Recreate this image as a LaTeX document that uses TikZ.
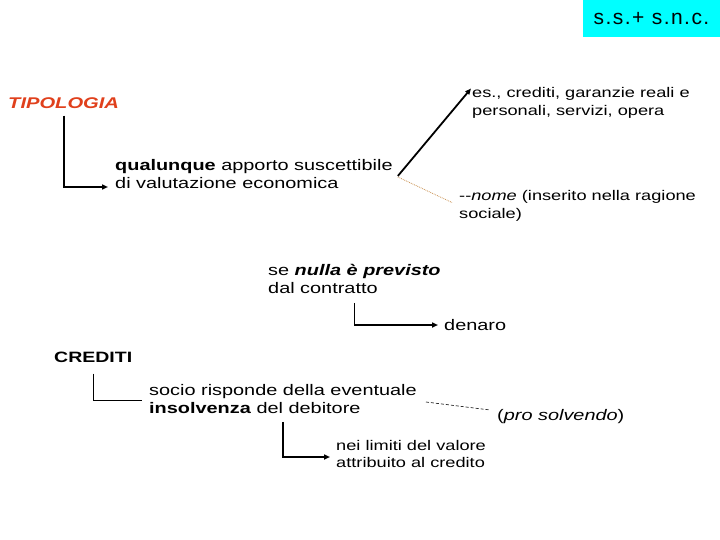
\documentclass[tikz,border=0pt]{standalone}
\usepackage{fontspec}
\setmainfont[FakeStretch=1.3]{Liberation Sans}
\newfontfamily\bannerfont[LetterSpace=7]{Liberation Sans}
\usetikzlibrary{arrows.meta,positioning,calc}
\definecolor{bannercyan}{HTML}{00FFFF}
\definecolor{tipred}{HTML}{E0401C}
\definecolor{dotline}{HTML}{C89050}
\tikzset{
  txt/.style={anchor=west,align=left,inner sep=1pt,font=\fontsize{15.3}{18}\selectfont},
  small/.style={txt,font=\fontsize{14}{17.5}\selectfont},
  flow/.style={-{Triangle[length=6pt,width=5pt]},line width=1.8pt},
  plain/.style={line width=1pt},
}

\begin{document}
\begin{tikzpicture}[x=1pt,y=-1pt]
  \useasboundingbox (0,0) rectangle (720,540);
  \node[fill=bannercyan,minimum width=137pt,minimum height=37pt,inner sep=0pt,
    font=\bannerfont\fontsize{21}{21}\selectfont] (banner) at (651.5,18.5) {s.s.+ s.n.c.};
  \node[txt,font=\fontsize{15.5}{18}\selectfont\bfseries\itshape,text=tipred] (tip) at (7,103) {TIPOLOGIA};
  \node[txt] (qual) at (114,174) {\textbf{qualunque} apporto suscettibile\\di valutazione economica};
  \node[small] (es) at (471,103) {es., crediti, garanzie reali e\\personali, servizi, opera};
  \node[small] (nome) at (458,206) {-{}-\textit{nome} (inserito nella ragione\\sociale)};
  \node[txt] (se) at (267,279) {se \textbf{\textit{nulla è previsto}}\\dal contratto};
  \node[txt] (denaro) at (443,325) {denaro};
  \node[txt,font=\fontsize{15}{18}\selectfont\bfseries] (cred) at (53,357) {CREDITI};
  \node[txt] (socio) at (148,399) {socio risponde della eventuale\\\textbf{insolvenza} del debitore};
  \node[txt] (pro) at (496,417) {(\textit{pro solvendo})};
  \node[small] (nei) at (335,454) {nei limiti del valore\\attribuito al credito};
  % connectors
  \draw[flow] ([yshift=-6pt]tip.south) |- ([xshift=-6pt,yshift=-13pt]qual.west);
  \draw[flow] ([xshift=4pt,yshift=-2pt]qual.east) -- ([yshift=-2pt]es.north west);
  \draw[dotline,densely dotted,line width=0.8pt] ([xshift=4pt,yshift=-3pt]qual.east) -- ([xshift=-6pt,yshift=-13pt]nome.north west);
  \draw[flow] ([yshift=-8pt]se.south) |- ([xshift=-5pt]denaro.west);
  \draw[plain] ([yshift=-10pt]cred.south) |- ([xshift=-6pt,yshift=-1pt]socio.west);
  \draw[densely dashed,line width=0.6pt] ([xshift=8pt,yshift=-3pt]socio.east) -- ([xshift=-6pt,yshift=7pt]pro.west);
  \draw[flow] ([yshift=-7pt]socio.south) |- ([xshift=-5pt,yshift=-3pt]nei.west);
\end{tikzpicture}
\end{document}
